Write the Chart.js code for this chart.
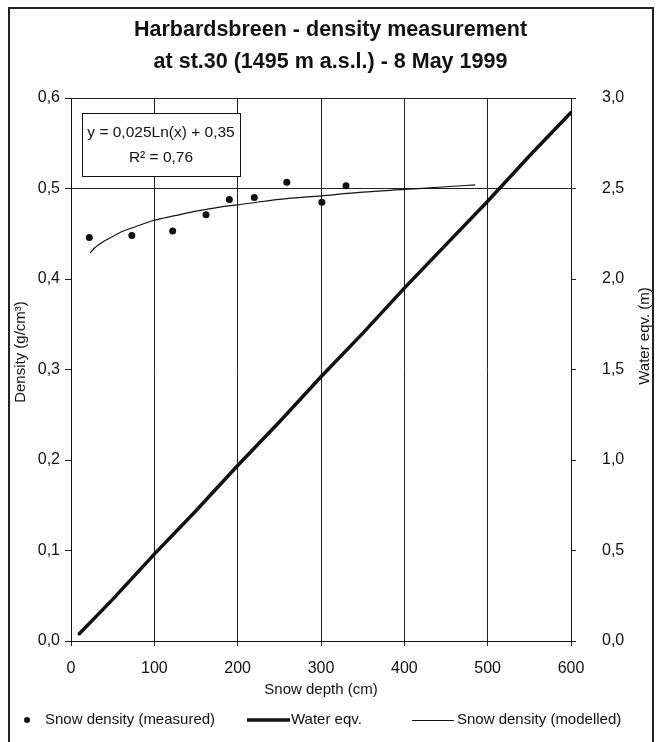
<!DOCTYPE html>
<html>
<head>
<meta charset="utf-8">
<script src="https://cdn.jsdelivr.net/npm/chart.js@4.4.1/dist/chart.umd.min.js"></script>
<style>
  html, body { margin: 0; padding: 0; background: #fff; overflow: hidden; }
  #wrap { position: relative; width: 661px; height: 742px; overflow: hidden; }
  #frame { position: absolute; left: 8px; top: 7px; width: 646px; height: 800px; border: 2px solid #222; box-sizing: border-box; }
  canvas { position: absolute; left: 0; top: 0; }
</style>
</head>
<body>
<div id="wrap">
  <div id="frame"></div>
  <canvas id="chart" width="661" height="760"></canvas>
</div>
<script>
// ---- data ----
const measuredDepth = [22, 73, 122, 162, 190, 220, 259, 301, 330];
const measuredDensity = [0.446, 0.448, 0.453, 0.471, 0.488, 0.490, 0.507, 0.485, 0.503];

const modelDepth = [23, 28, 33, 40, 50, 60, 75, 100, 125, 150, 175, 200, 250, 300, 350, 400, 450, 485];
const modelDensity = [0.429, 0.434, 0.438, 0.442, 0.447, 0.452, 0.457, 0.465, 0.470, 0.475, 0.479, 0.482, 0.488, 0.492, 0.496, 0.499, 0.502, 0.504];

const waterDepth = [10, 50, 100, 150, 200, 250, 300, 350, 400, 450, 500, 550, 600];
const waterEq = [0.04, 0.23, 0.48, 0.72, 0.97, 1.21, 1.46, 1.70, 1.95, 2.19, 2.43, 2.68, 2.92];

const depthTickLabels = ['0', '100', '200', '300', '400', '500', '600'];
const densityTickLabels = ['0,0', '0,1', '0,2', '0,3', '0,4', '0,5', '0,6'];
const waterTickLabels = ['0,0', '0,5', '1,0', '1,5', '2,0', '2,5', '3,0'];

const titleLines = ['Harbardsbreen - density measurement', 'at st.30 (1495 m a.s.l.) - 8 May 1999'];
const legendNames = ['Snow density (measured)', 'Water eqv.', 'Snow density (modelled)'];
const equationLines = ['y = 0,025Ln(x) + 0,35', 'R\u00B2 = 0,76'];

// equation box corners in data units (depth, density)
const eqBox = { x0: 13, x1: 203, y0: 0.583, y1: 0.513 };

const FONT = "'Liberation Sans', Arial, sans-serif";
const INK = '#111';
const GRID = '#222';

// legend row: marker span and text start, in page pixels
const legendY = 720;
const legendSlots = [
  { from: 27, to: 27, text: 45, width: 0 },
  { from: 247, to: 290, text: 291, width: 3.5 },
  { from: 412, to: 454, text: 457, width: 1 }
];

const pts = (xs, ys) => xs.map((x, i) => ({ x: x, y: ys[i] }));

const extras = {
  id: 'extras',
  afterDatasetsDraw(chart) {
    const { ctx, scales: { x, y } } = chart;
    const l = x.getPixelForValue(eqBox.x0), r = x.getPixelForValue(eqBox.x1);
    const t = y.getPixelForValue(eqBox.y0), b = y.getPixelForValue(eqBox.y1);
    ctx.save();
    ctx.fillStyle = '#fff';
    ctx.fillRect(l, t, r - l, b - t);
    ctx.strokeStyle = INK;
    ctx.lineWidth = 1;
    ctx.strokeRect(Math.round(l) + 0.5, Math.round(t) + 0.5, Math.round(r - l), Math.round(b - t));
    ctx.fillStyle = INK;
    ctx.font = '15.5px ' + FONT;
    ctx.textAlign = 'center';
    ctx.textBaseline = 'middle';
    const cx = (l + r) / 2, h = (b - t);
    ctx.fillText(equationLines[0], cx, t + h * 0.30);
    ctx.fillText(equationLines[1], cx, t + h * 0.70);
    ctx.restore();
  },
  afterDraw(chart) {
    const { ctx } = chart;
    ctx.save();
    ctx.fillStyle = INK;
    ctx.strokeStyle = INK;
    ctx.font = '15px ' + FONT;
    ctx.textBaseline = 'middle';

    // legend
    legendSlots.forEach((s, i) => {
      if (s.width === 0) {
        ctx.beginPath();
        ctx.arc(s.from, legendY, 3, 0, Math.PI * 2);
        ctx.fill();
      } else {
        const ly = s.width < 2 ? legendY + 0.5 : legendY;
        ctx.lineWidth = s.width;
        ctx.beginPath();
        ctx.moveTo(s.from, ly);
        ctx.lineTo(s.to, ly);
        ctx.stroke();
      }
      ctx.textAlign = 'left';
      ctx.fillText(legendNames[i], s.text, legendY);
    });

    // both axis titles read bottom to top
    ctx.textAlign = 'center';
    ctx.save();
    ctx.translate(21, 352);
    ctx.rotate(-Math.PI / 2);
    ctx.fillText('Density (g/cm\u00B3)', 0, 0);
    ctx.restore();
    ctx.translate(645, 336);
    ctx.rotate(-Math.PI / 2);
    ctx.fillText('Water eqv. (m)', 0, 0);
    ctx.restore();
  }
};

new Chart(document.getElementById('chart'), {
  type: 'line',
  data: {
    datasets: [
      {
        label: legendNames[0],
        data: pts(measuredDepth, measuredDensity),
        yAxisID: 'y',
        showLine: false,
        pointRadius: 3.5,
        pointBackgroundColor: INK,
        pointBorderWidth: 0,
        borderColor: INK
      },
      {
        label: legendNames[1],
        data: pts(waterDepth, waterEq),
        yAxisID: 'y2',
        borderColor: INK,
        borderWidth: 3.5,
        pointRadius: 0,
        borderCapStyle: 'round',
        tension: 0
      },
      {
        label: legendNames[2],
        data: pts(modelDepth, modelDensity),
        yAxisID: 'y',
        borderColor: INK,
        borderWidth: 1.2,
        pointRadius: 0,
        cubicInterpolationMode: 'monotone'
      }
    ]
  },
  options: {
    responsive: false,
    animation: false,
    layout: { padding: { left: 0, right: 0, top: 0, bottom: 59 } },
    plugins: {
      title: {
        display: true,
        text: titleLines,
        color: INK,
        font: { family: FONT, size: 21.5, weight: 'bold', lineHeight: 1.49 },
        padding: { top: 14, bottom: 20 }
      },
      legend: { display: false },
      tooltip: { enabled: false }
    },
    scales: {
      x: {
        type: 'linear',
        min: 0, max: 600,
        afterFit: (s) => { s.height = 60; },
        ticks: {
          stepSize: 100,
          padding: 13,
          color: INK,
          font: { family: FONT, size: 16 },
          callback: (v, i) => depthTickLabels[i]
        },
        grid: { color: GRID, tickColor: GRID, tickLength: 5, lineWidth: 1 },
        border: { color: INK, width: 1 },
        title: {
          display: true,
          text: 'Snow depth (cm)',
          color: INK,
          font: { family: FONT, size: 15 },
          padding: { top: 0, bottom: 2 }
        }
      },
      y: {
        position: 'left',
        min: 0, max: 0.6,
        afterFit: (s) => { s.width = 71; },
        ticks: {
          stepSize: 0.1,
          padding: 5,
          color: INK,
          font: { family: FONT, size: 16 },
          callback: (v, i) => densityTickLabels[i]
        },
        grid: {
          color: (c) => (c.index === 5 || c.index === 6) ? GRID : 'rgba(0,0,0,0)',
          tickColor: GRID,
          tickLength: 6,
          lineWidth: 1
        },
        border: { color: INK, width: 1 }
      },
      y2: {
        position: 'right',
        min: 0, max: 3,
        afterFit: (s) => { s.width = 90; },
        ticks: {
          stepSize: 0.5,
          padding: 26,
          color: INK,
          font: { family: FONT, size: 16 },
          callback: (v, i) => waterTickLabels[i]
        },
        grid: { drawOnChartArea: false, tickColor: GRID, tickLength: 5 },
        border: { color: INK, width: 1 }
      }
    }
  },
  plugins: [extras]
});
</script>
</body>
</html>
